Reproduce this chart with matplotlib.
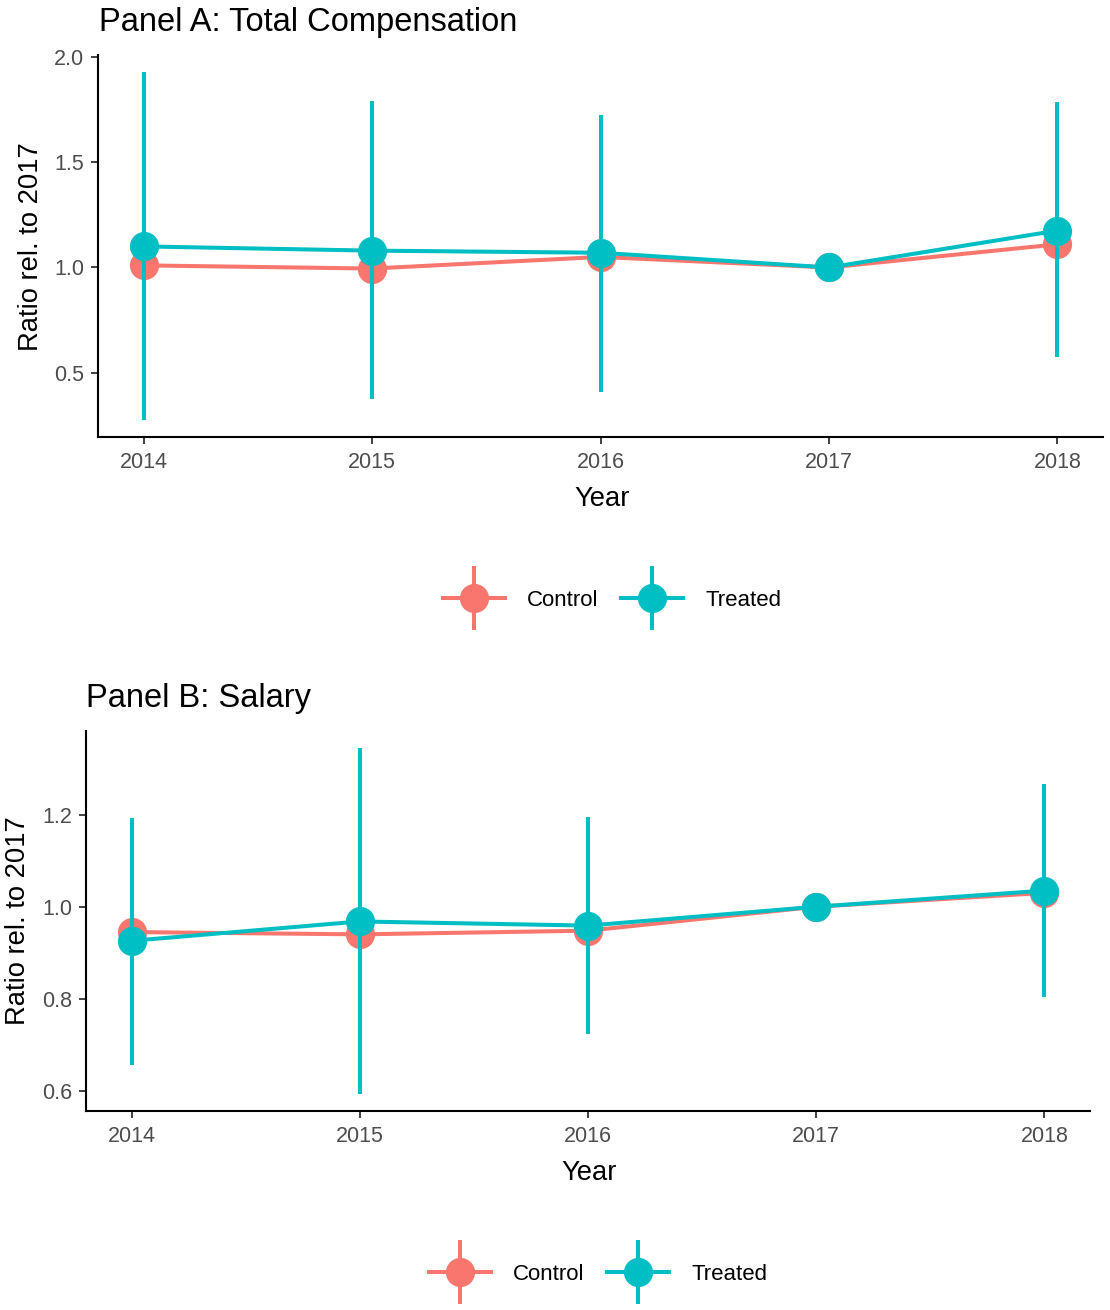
import matplotlib.pyplot as plt
from matplotlib.lines import Line2D
from matplotlib.legend_handler import HandlerTuple
import numpy as np

plt.rcParams['font.family'] = ['Liberation Sans', 'DejaVu Sans']

years = [2014, 2015, 2016, 2017, 2018]

# Panel A: total compensation
comp_control = [1.01, 0.995, 1.05, 1.0, 1.11]
comp_treated = [1.10, 1.08, 1.07, 1.0, 1.175]
comp_lo = [0.278, 0.376, 0.407, 1.0, 0.573]
comp_hi = [1.926, 1.788, 1.726, 1.0, 1.783]

# Panel B: salary
sal_control = [0.945, 0.94, 0.948, 1.0, 1.03]
sal_treated = [0.926, 0.968, 0.959, 1.0, 1.035]
sal_lo = [0.657, 0.594, 0.723, 1.0, 0.805]
sal_hi = [1.193, 1.344, 1.195, 1.0, 1.266]

RED = '#F8766D'
TEAL = '#00BFC4'
GREY = '#4D4D4D'
LW = 2.9
MS = 20


def draw_panel(ax, control, treated, lo, hi, yticks):
    x = np.array(years)
    ax.plot(x, control, color=RED, lw=LW, zorder=2)
    ax.plot(x, control, 'o', color=RED, ms=MS, zorder=3)
    ax.plot(x, treated, color=TEAL, lw=LW, zorder=4)
    ax.vlines(x, lo, hi, color=TEAL, lw=LW, zorder=5)
    ax.plot(x, treated, 'o', color=TEAL, ms=MS, zorder=6)

    ymin, ymax = min(lo), max(hi)
    pad = 0.05 * (ymax - ymin)
    ax.set_ylim(ymin - pad, ymax + pad)
    ax.set_xlim(2013.8, 2018.2)
    ax.set_xticks(years)
    ax.set_yticks(yticks)
    ax.set_yticklabels([f'{t:.1f}' for t in yticks])
    for s in ['top', 'right']:
        ax.spines[s].set_visible(False)
    for s in ['left', 'bottom']:
        ax.spines[s].set_linewidth(1.5)
        ax.spines[s].set_color('black')
    ax.tick_params(length=5, width=1.3, color='#333333', labelsize=15.5,
                   labelcolor=GREY, pad=5)
    ax.tick_params(axis='x', pad=6)


def add_legend(fig, cx, cy):
    h_c = (Line2D([], [], color=RED, lw=LW, marker='o', ms=MS),
           Line2D([], [], color=RED, lw=0, marker='|', ms=46, mew=LW))
    h_t = (Line2D([], [], color=TEAL, lw=LW, marker='o', ms=MS),
           Line2D([], [], color=TEAL, lw=0, marker='|', ms=46, mew=LW))
    fig.legend([h_c, h_t], ['Control', 'Treated'],
               handler_map={tuple: HandlerTuple(ndivide=1, pad=0)},
               loc='center', bbox_to_anchor=(cx, cy), ncol=2, frameon=False,
               numpoints=1, fontsize=16, handlelength=2.8,
               handletextpad=1.0, columnspacing=1.0)


fig = plt.figure(figsize=(11.1, 13.1), dpi=100)
W, H = 1110, 1310

ax1 = fig.add_axes([98 / W, 1 - 437 / H, 1005 / W, 382 / H])
draw_panel(ax1, comp_control, comp_treated, comp_lo, comp_hi,
           [0.5, 1.0, 1.5, 2.0])
ax2 = fig.add_axes([86 / W, 1 - 1111 / H, 1004 / W, 380 / H])
draw_panel(ax2, sal_control, sal_treated, sal_lo, sal_hi,
           [0.6, 0.8, 1.0, 1.2])

fig.text(99 / W, 1 - 23 / H, 'Panel A: Total Compensation', fontsize=23.5,
         ha='left', va='center')
fig.text(86 / W, 1 - 698 / H, 'Panel B: Salary', fontsize=23.5,
         ha='left', va='center')

fig.text(31 / W, 1 - 247 / H, 'Ratio rel. to 2017', fontsize=19.7,
         rotation=90, ha='center', va='center')
fig.text(18 / W, 1 - 921 / H, 'Ratio rel. to 2017', fontsize=19.7,
         rotation=90, ha='center', va='center')
fig.text(602 / W, 1 - 499 / H, 'Year', fontsize=19.7, ha='center',
         va='center')
fig.text(589 / W, 1 - 1173 / H, 'Year', fontsize=19.7, ha='center',
         va='center')

add_legend(fig, 612 / W, 1 - 600 / H)
add_legend(fig, 598 / W, 1 - 1274 / H)

fig.savefig('out.png', dpi=100)
